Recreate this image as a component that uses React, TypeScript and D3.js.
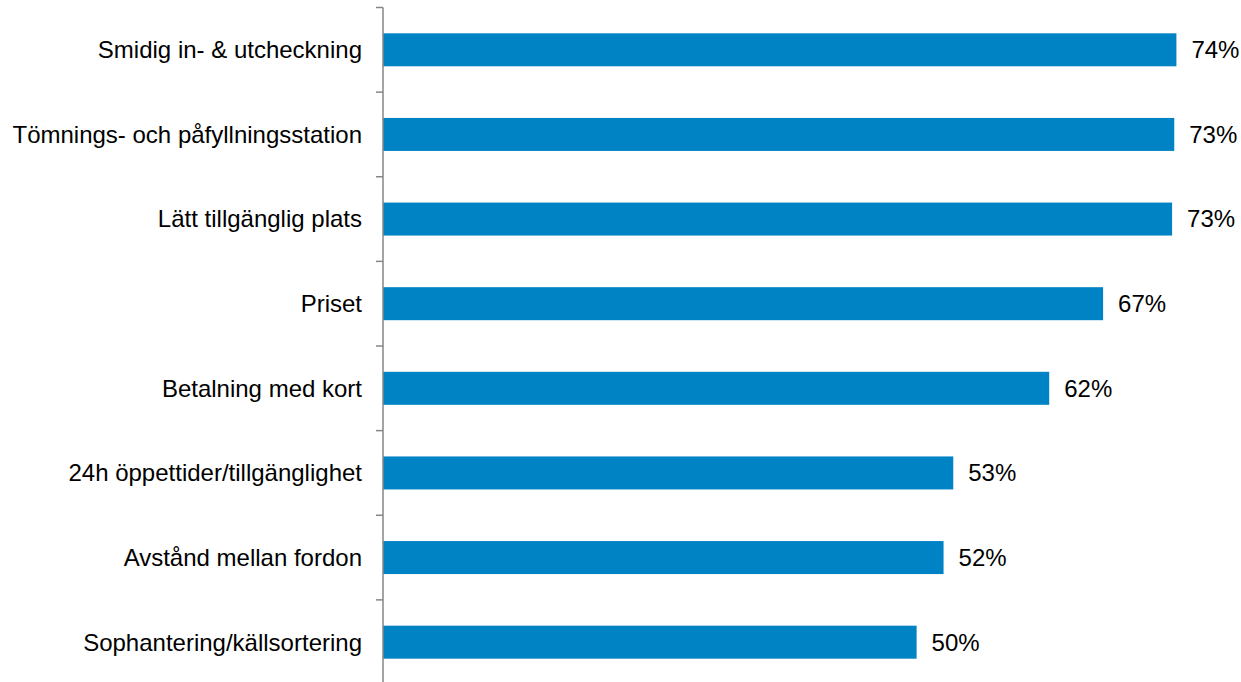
import React from "react";
import * as d3 from "d3";

const categories = [
  "Smidig in- & utcheckning",
  "Tömnings- och påfyllningsstation",
  "Lätt tillgänglig plats",
  "Priset",
  "Betalning med kort",
  "24h öppettider/tillgänglighet",
  "Avstånd mellan fordon",
  "Sophantering/källsortering",
];
const values = [73.6, 73.4, 73.2, 66.8, 61.8, 52.9, 52.0, 49.5];

export default function App() {
  const width = 1241;
  const height = 682;
  const axisX = 383;
  const top = 7.5;
  const bottom = 684.5;
  const x = d3.scaleLinear().domain([0, 100]).range([axisX, axisX + 1078]);
  const y = d3.scaleBand<string>().domain(categories).range([top, bottom]).paddingInner(0.61).paddingOuter(0.305);
  const ticks = d3.range(categories.length + 1).map((i) => top + (i * (bottom - top)) / categories.length);
  const font = "'Liberation Sans', Arial, sans-serif";
  return (
    <svg width={width} height={height} style={{ position: "absolute", left: 0, top: 0 }}>
      <rect width={width} height={height} fill="#fff" />
      {categories.map((c, i) => (
        <g key={c}>
          <rect x={axisX} y={y(c)!} width={x(values[i]) - axisX} height={y.bandwidth()} fill="#0083C5" />
          <text x={362} y={y(c)! + y.bandwidth() / 2} dy="0.35em" textAnchor="end" fontFamily={font} fontSize={24} fill="#000">
            {c}
          </text>
          <text x={x(values[i]) + 15} y={y(c)! + y.bandwidth() / 2} dy="0.35em" fontFamily={font} fontSize={24} fill="#000">
            {d3.format(".0f")(values[i])}%
          </text>
        </g>
      ))}
      <line x1={axisX} x2={axisX} y1={top} y2={height} stroke="#868686" strokeWidth={1.5} />
      {ticks.map((t, i) => (
        <line key={i} x1={axisX - 7} x2={axisX} y1={t} y2={t} stroke="#868686" strokeWidth={1.5} />
      ))}
    </svg>
  );
}
